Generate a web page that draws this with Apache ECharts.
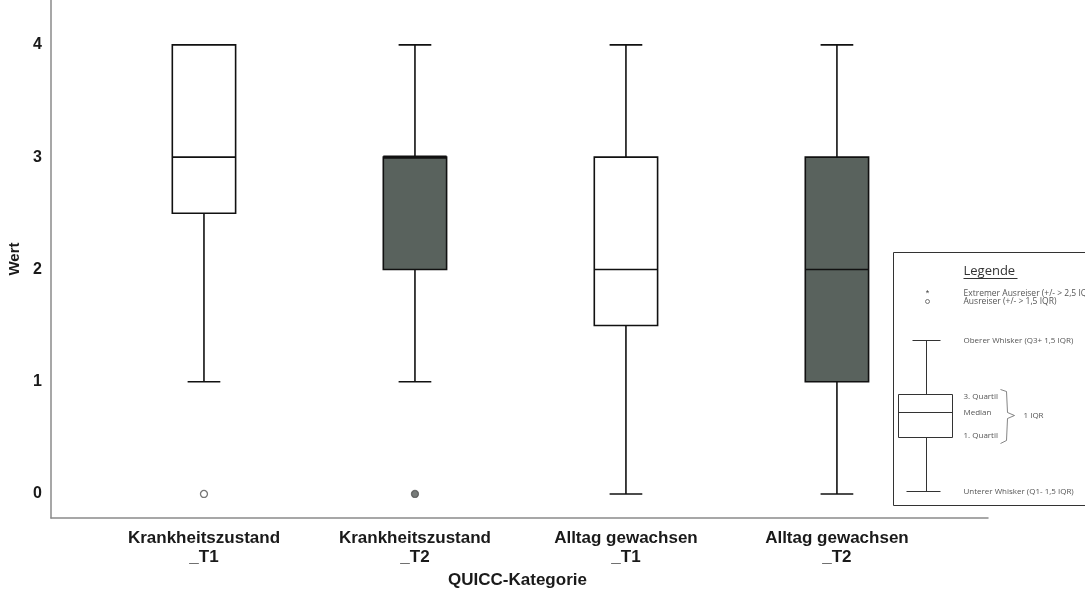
<!DOCTYPE html>
<html>
<head>
<meta charset="utf-8">
<script src="https://cdn.jsdelivr.net/npm/echarts@6/dist/echarts.min.js"></script>
<style>
html,body{margin:0;padding:0;background:#fff;}
#chart{width:1085px;height:590px;}
</style>
</head>
<body>
<div id="chart"></div>
<script>
const categories = ['Krankheitszustand\n_T1', 'Krankheitszustand\n_T2', 'Alltag gewachsen\n_T1', 'Alltag gewachsen\n_T2'];
// [lower whisker, Q1, median, Q3, upper whisker]
const boxValues = [
  [1, 2.5, 3, 4, 4],
  [1, 2, 3, 3, 4],
  [0, 1.5, 2, 3, 4],
  [0, 1, 2, 3, 4]
];
const boxFills = ['#ffffff', '#59625d', '#ffffff', '#59625d'];
// outliers: [category index, value]
const outliers = [[0, 0], [1, 0]];
const outlierFills = ['#ffffff', '#555a57'];
const yTicks = [0, 1, 2, 3, 4];

const chart = echarts.init(document.getElementById('chart'));

const boxData = boxValues.map((v, i) => [i].concat(v));

const legendFont = '8px "Open Sans", "Liberation Sans", sans-serif';
const legendColor = '#555';
const lx = 893, ly = 252;

const option = {
  animation: false,
  backgroundColor: '#fff',
  grid: { left: 51, right: 97, top: 0, bottom: 72, containLabel: false, outerBoundsMode: 'none' },
  xAxis: {
    type: 'value',
    min: -0.725,
    max: 3.716,
    splitLine: { show: false },
    axisLine: { show: true, onZero: false, lineStyle: { color: '#8a8a8a', width: 1.5 } },
    axisTick: { show: false },
    axisLabel: {
      customValues: [0, 1, 2, 3],
      formatter: v => categories[Math.round(v)] || '',
      fontFamily: '"Liberation Sans", Arial, sans-serif',
      fontWeight: 'bold',
      fontSize: 17,
      lineHeight: 19,
      color: '#1a1a1a',
      margin: 11
    },
    name: 'QUICC-Kategorie',
    nameLocation: 'middle',
    nameGap: 53,
    nameTextStyle: {
      fontFamily: '"Liberation Sans", Arial, sans-serif',
      fontWeight: 'bold',
      fontSize: 17,
      color: '#1a1a1a',
      padding: [0, 4, 0, 0]
    }
  },
  yAxis: {
    type: 'value',
    min: -0.214,
    max: 4.40,
    splitLine: { show: false },
    axisLine: { show: true, onZero: false, lineStyle: { color: '#8a8a8a', width: 1.5 } },
    axisTick: { show: false },
    axisLabel: {
      customValues: yTicks,
      fontFamily: '"Liberation Sans", Arial, sans-serif',
      fontWeight: 'bold',
      fontSize: 16,
      color: '#1a1a1a',
      margin: 9
    },
    name: 'Wert',
    nameLocation: 'middle',
    nameGap: 22,
    nameRotate: 90,
    nameTextStyle: {
      fontFamily: '"Liberation Sans", Arial, sans-serif',
      fontWeight: 'bold',
      fontSize: 15,
      color: '#1a1a1a'
    }
  },
  series: [
    {
      type: 'custom',
      data: boxData,
      clip: false,
      renderItem: function (params, api) {
        const i = api.value(0);
        const lo = api.value(1), q1 = api.value(2), med = api.value(3), q3 = api.value(4), hi = api.value(5);
        const unit = api.size([1, 0])[0];
        const bw = unit * 0.3;
        const cw = unit * 0.155;
        const pLo = api.coord([i, lo]);
        const pQ1 = api.coord([i, q1]);
        const pMed = api.coord([i, med]);
        const pQ3 = api.coord([i, q3]);
        const pHi = api.coord([i, hi]);
        const cx = pQ1[0];
        const st = { stroke: '#111', lineWidth: 1.6, fill: null };
        const children = [];
        if (pHi[1] < pQ3[1] - 0.5) {
          children.push({ type: 'line', shape: { x1: cx, y1: pHi[1], x2: cx, y2: pQ3[1] }, style: st });
          children.push({ type: 'line', shape: { x1: cx - cw / 2, y1: pHi[1], x2: cx + cw / 2, y2: pHi[1] }, style: st });
        }
        if (pLo[1] > pQ1[1] + 0.5) {
          children.push({ type: 'line', shape: { x1: cx, y1: pQ1[1], x2: cx, y2: pLo[1] }, style: st });
          children.push({ type: 'line', shape: { x1: cx - cw / 2, y1: pLo[1], x2: cx + cw / 2, y2: pLo[1] }, style: st });
        }
        children.push({
          type: 'rect',
          shape: { x: cx - bw / 2, y: pQ3[1], width: bw, height: pQ1[1] - pQ3[1] },
          style: { fill: boxFills[i], stroke: '#111', lineWidth: 1.6 }
        });
        const medW = (med === q3 || med === q1) ? 3.2 : 1.6;
        children.push({ type: 'line', shape: { x1: cx - bw / 2, y1: pMed[1], x2: cx + bw / 2, y2: pMed[1] }, style: { stroke: '#111', lineWidth: medW } });
        return { type: 'group', children: children };
      }
    },
    {
      type: 'scatter',
      data: outliers.map((o, k) => ({ value: o, itemStyle: { color: outlierFills[k], borderColor: '#555', borderWidth: 1.3 } })),
      symbol: 'circle',
      symbolSize: 7,
      z: 5
    }
  ],
  graphic: [
    {
      type: 'group',
      left: lx, top: ly,
      children: [
        { type: 'rect', shape: { x: 0, y: 0, width: 220, height: 253 }, style: { fill: '#fff', stroke: '#333', lineWidth: 1 } },
        { type: 'text', x: 70, y: 12, style: { text: 'Legende', font: '13px "Open Sans", "Liberation Sans", sans-serif', fill: '#333' } },
        { type: 'line', shape: { x1: 70, y1: 26, x2: 124, y2: 26 }, style: { stroke: '#333', lineWidth: 1 } },
        { type: 'text', x: 34, y: 37, style: { text: '*', font: '9px "Liberation Sans", sans-serif', fill: '#444', align: 'center' } },
        { type: 'circle', shape: { cx: 34, cy: 49, r: 2 }, style: { fill: '#fff', stroke: '#555', lineWidth: 0.8 } },
        { type: 'text', x: 70, y: 37, style: { text: 'Extremer Ausreiser (+/- > 2,5 IQR)', font: '8.5px "Open Sans", "Liberation Sans", sans-serif', fill: legendColor } },
        { type: 'text', x: 70, y: 45, style: { text: 'Ausreiser (+/- > 1,5 IQR)', font: '8.5px "Open Sans", "Liberation Sans", sans-serif', fill: legendColor } },
        { type: 'line', shape: { x1: 19, y1: 88, x2: 47, y2: 88 }, style: { stroke: '#333', lineWidth: 1 } },
        { type: 'line', shape: { x1: 33, y1: 88, x2: 33, y2: 142 }, style: { stroke: '#333', lineWidth: 1 } },
        { type: 'rect', shape: { x: 5, y: 142, width: 54, height: 43 }, style: { fill: '#fff', stroke: '#333', lineWidth: 1 } },
        { type: 'line', shape: { x1: 5, y1: 160, x2: 59, y2: 160 }, style: { stroke: '#333', lineWidth: 1 } },
        { type: 'line', shape: { x1: 33, y1: 185, x2: 33, y2: 239 }, style: { stroke: '#333', lineWidth: 1 } },
        { type: 'line', shape: { x1: 13, y1: 239, x2: 47, y2: 239 }, style: { stroke: '#333', lineWidth: 1 } },
        { type: 'text', x: 70, y: 84, style: { text: 'Oberer Whisker (Q3+ 1,5 IQR)', font: legendFont, fill: legendColor } },
        { type: 'text', x: 70, y: 140, style: { text: '3. Quartil', font: legendFont, fill: legendColor } },
        { type: 'text', x: 70, y: 156, style: { text: 'Median', font: legendFont, fill: legendColor } },
        { type: 'text', x: 70, y: 179, style: { text: '1. Quartil', font: legendFont, fill: legendColor } },
        { type: 'text', x: 70, y: 235, style: { text: 'Unterer Whisker (Q1- 1,5 IQR)', font: legendFont, fill: legendColor } },
        { type: 'polyline', shape: { points: [[107, 137], [113, 139], [114, 160], [121, 163], [114, 166], [113, 188], [107, 191]] }, style: { stroke: '#666', lineWidth: 0.8, fill: null } },
        { type: 'text', x: 130, y: 159, style: { text: '1 IQR', font: legendFont, fill: legendColor } }
      ]
    }
  ]
};
chart.setOption(option);
</script>
</body>
</html>
